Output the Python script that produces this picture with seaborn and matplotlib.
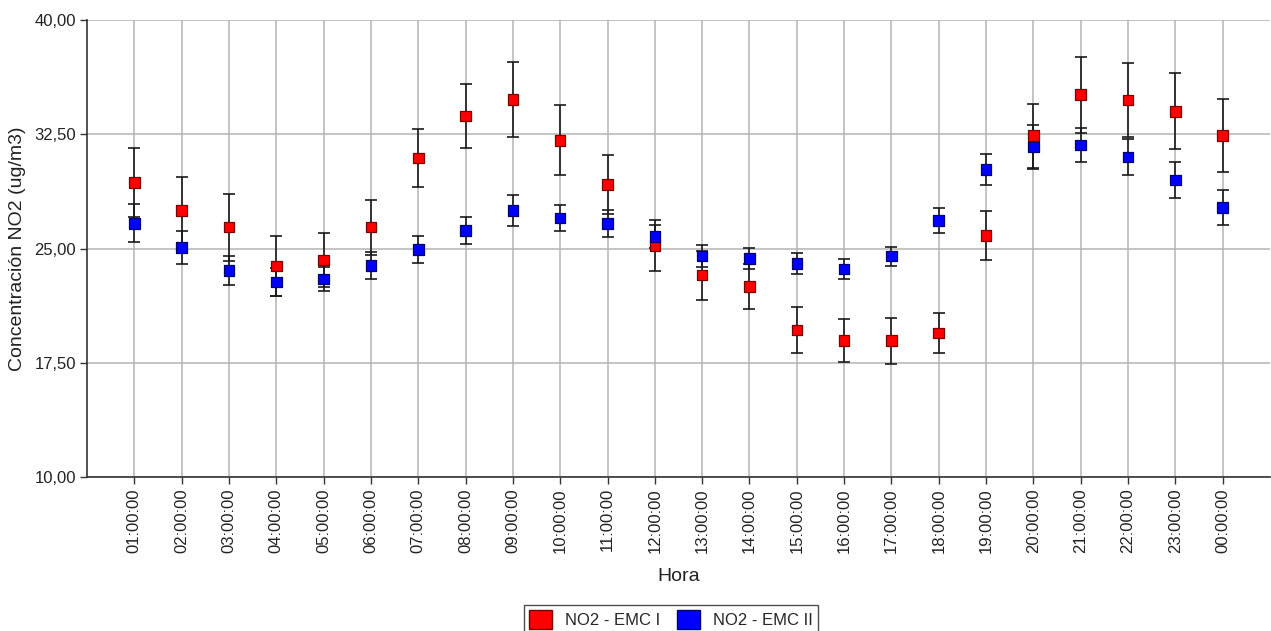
import matplotlib
matplotlib.use("Agg")
import matplotlib.pyplot as plt
import seaborn as sns
import pandas as pd
from matplotlib.patches import Patch
from matplotlib.ticker import FuncFormatter

horas = ["01:00:00", "02:00:00", "03:00:00", "04:00:00", "05:00:00", "06:00:00",
         "07:00:00", "08:00:00", "09:00:00", "10:00:00", "11:00:00", "12:00:00",
         "13:00:00", "14:00:00", "15:00:00", "16:00:00", "17:00:00", "18:00:00",
         "19:00:00", "20:00:00", "21:00:00", "22:00:00", "23:00:00", "00:00:00"]

emc1 = [29.35, 27.5, 26.4, 23.85, 24.25, 26.4, 30.95, 33.7, 34.8, 32.1, 29.2, 25.2,
        23.25, 22.5, 19.65, 18.95, 18.95, 19.45, 25.85, 32.4, 35.1, 34.75, 34.0, 32.4]
emc1_err = [2.25, 2.2, 2.2, 1.95, 1.8, 1.8, 1.9, 2.1, 2.45, 2.3, 1.95, 1.7,
            1.6, 1.5, 1.5, 1.4, 1.5, 1.3, 1.6, 2.1, 2.5, 2.45, 2.5, 2.4]
emc2 = [26.65, 25.05, 23.55, 22.8, 23.0, 23.9, 24.95, 26.2, 27.5, 27.0, 26.65, 25.8,
        24.5, 24.35, 24.0, 23.65, 24.5, 26.85, 30.2, 31.65, 31.8, 31.0, 29.5, 27.7]
emc2_err = [1.25, 1.1, 0.95, 0.9, 0.8, 0.9, 0.88, 0.88, 1.0, 0.87, 0.87, 0.75,
            0.7, 0.7, 0.7, 0.65, 0.63, 0.8, 1.0, 1.45, 1.1, 1.2, 1.2, 1.15]

series_names = ["NO2 - EMC I", "NO2 - EMC II"]
colors = {"NO2 - EMC I": "#ff0000", "NO2 - EMC II": "#0000ff"}
edges = {"NO2 - EMC I": "#7a0000", "NO2 - EMC II": "#00006e"}

yticks = [10.0, 17.5, 25.0, 32.5, 40.0]

sns.set_style("white")
plt.rcParams['font.family'] = ['Liberation Sans', 'DejaVu Sans']

df = pd.DataFrame({
    "x": list(range(len(horas))) * 2,
    "valor": emc1 + emc2,
    "err": emc1_err + emc2_err,
    "serie": [series_names[0]] * len(horas) + [series_names[1]] * len(horas),
})

fig = plt.figure(figsize=(12.71, 6.31), dpi=100)
ax = fig.add_axes([87 / 1271, 1 - 477 / 631, (1270 - 87) / 1271, (477 - 20) / 631])

for s in series_names:
    d = df[df.serie == s]
    ax.errorbar(d.x, d.valor, yerr=d.err, fmt='none', ecolor='#1a1a1a',
                elinewidth=1.2, capsize=4.3, capthick=1.2, zorder=3)

sns.scatterplot(data=df, x="x", y="valor", hue="serie", palette=colors,
                marker='s', s=58, linewidth=0, legend=False, ax=ax, zorder=4)
coll = ax.collections[-1]
coll.set_edgecolor([edges[s] for s in df.serie])
coll.set_linewidth(0.9)

ax.set_xlim(-1, 24)
ax.set_ylim(10, 40)
ax.set_xticks(range(len(horas)))
ax.set_xticklabels(horas, rotation=90, fontsize=12, color='#222222')
ax.set_yticks(yticks)
ax.yaxis.set_major_formatter(FuncFormatter(lambda v, p: f"{v:.2f}".replace('.', ',')))
ax.tick_params(axis='y', labelsize=12, labelcolor='#222222', direction='out',
               length=5, width=1, color='#333333', left=True, pad=3)
ax.tick_params(axis='x', direction='out', length=5, width=1, color='#333333',
               bottom=True, pad=3)

ax.grid(True, color='#b4b4b4', linewidth=1.1)
ax.set_axisbelow(True)
for side in ['top', 'right']:
    ax.spines[side].set_visible(False)
for side in ['left', 'bottom']:
    ax.spines[side].set_color('#333333')
    ax.spines[side].set_linewidth(1.2)

ax.set_ylabel("Concentración NO2 (ug/m3)", fontsize=14, color='#222222', labelpad=6)
ax.set_xlabel("Hora", fontsize=14, color='#222222', labelpad=11)

handles = [Patch(facecolor=colors[s], edgecolor=edges[s], linewidth=1.0, label=s)
           for s in series_names]
leg = fig.legend(handles=handles, loc='upper center', bbox_to_anchor=(0.528, 1 - 597 / 631),
                 ncol=2, frameon=True, fontsize=12, handlelength=1.35, handleheight=1.35,
                 handletextpad=0.8, columnspacing=1.0, borderpad=0.3, fancybox=False)
leg.get_frame().set_edgecolor('#222222')
leg.get_frame().set_linewidth(1.0)

fig.savefig("out.png", dpi=100)
